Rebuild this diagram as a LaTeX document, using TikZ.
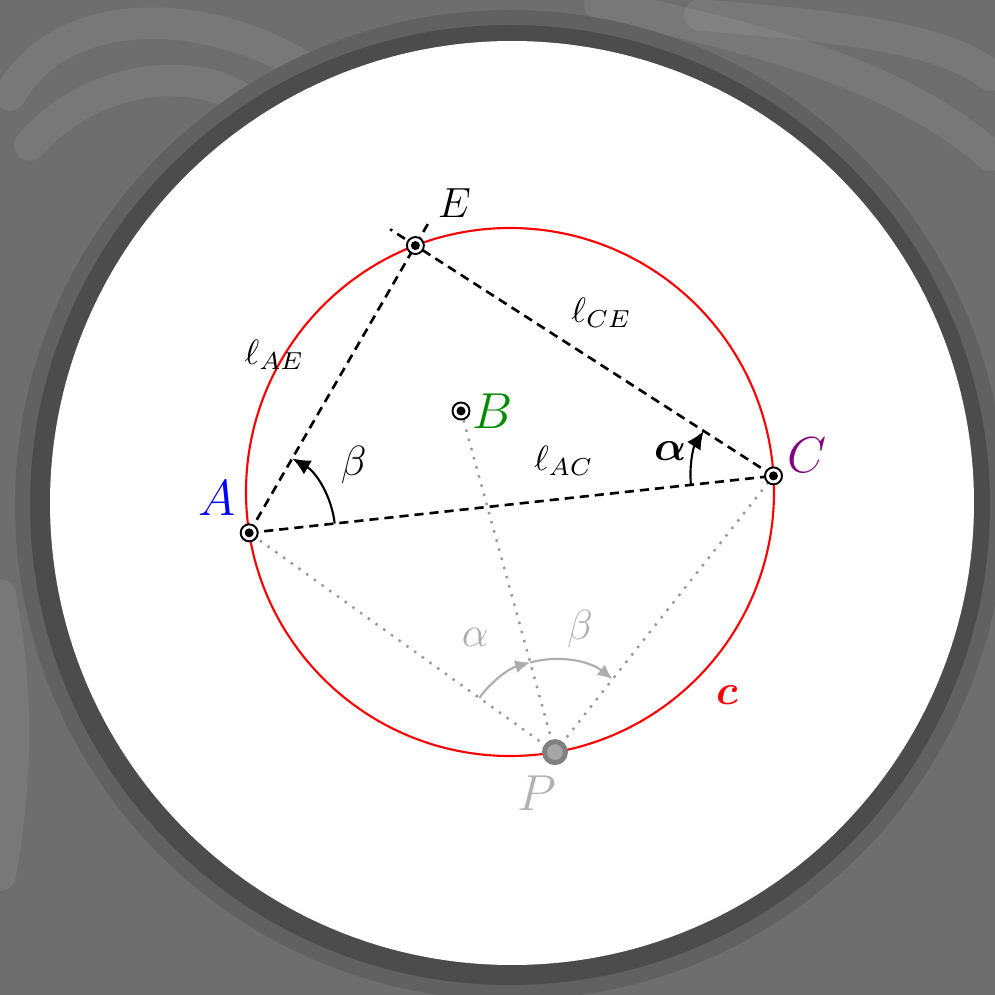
\documentclass[tikz,border=0pt]{standalone}
\usepackage{amsmath}
\usepackage{bm}
\usetikzlibrary{arrows.meta,angles,positioning}

\begin{document}
\begin{tikzpicture}[
  pt/.style={circle, draw, fill=white, line width=0.55pt, minimum size=1.7mm,
    inner sep=0pt,
    path picture={\fill[black] (path picture bounding box.center) circle (0.45mm);}},
  ppt/.style={circle, draw=black!50, fill=black!35, line width=1.4pt,
    minimum size=2.1mm, inner sep=0pt},
  dashline/.style={line width=0.75pt, dash pattern=on 2.6pt off 1.7pt},
  dotline/.style={line width=0.7pt, black!40, dotted},
  ang/.style={draw, line width=0.6pt},
  gang/.style={draw=black!32, line width=0.6pt, angle radius=9.3mm,
    pic text options={text=black!32, font=\large}},
  swirl/.style={white, opacity=0.07, line width=9pt, line cap=round}
]
\useasboundingbox (0,0) rectangle (9.95,9.95);
\clip (0,0) rectangle (9.95,9.95);

% backdrop
\fill[black!57] (0,0) rectangle (9.95,9.95);
\draw[swirl] (0.1,9.0) .. controls (0.6,9.9) and (2.0,9.9) .. (3.0,9.3);
\draw[swirl] (0.3,8.5) .. controls (1.0,9.3) and (2.2,9.3) .. (2.6,8.8);
\draw[swirl] (6.0,9.9) .. controls (7.5,9.6) and (9.0,9.2) .. (9.9,8.4);
\draw[swirl] (7.0,9.8) .. controls (8.2,9.7) and (9.4,9.6) .. (9.9,9.2);
\draw[swirl] (0.0,4.0) .. controls (0.2,3.0) and (0.15,2.0) .. (0.0,1.2);
\fill[black!62] (5.10,4.90) circle (4.95);
\fill[black!70] (5.10,4.90) circle (4.80);
\fill[white] (5.12,4.92) circle (4.62);

% circle c and its points
\coordinate (O) at (5.10,5.03);
\coordinate (A) at ([shift={(188.9:2.64)}]O);
\coordinate (C) at ([shift={(3.5:2.64)}]O);
\coordinate (E) at ([shift={(111:2.64)}]O);
\coordinate (P) at ([shift={(279.8:2.64)}]O);
\coordinate (B) at (4.61,5.84);

\draw[red, line width=0.6pt] (O) circle (2.64);
\node[red, font=\large] (clab) at (7.27,3.00) {$\bm{c}$};

\draw[dotline] (P) -- (A);
\draw[dotline] (P) -- (B);
\draw[dotline] (P) -- (C);

\draw[dashline] (A) -- node[pos=0.6, above=1mm] (lac) {$\ell_{AC}$} (C);
\draw[dashline, shorten >=-3mm] (A) -- node[pos=0.62, left=3.5mm] (lae) {$\ell_{AE}$} (E);
\draw[dashline, shorten >=-3mm] (C) -- node[pos=0.48, above=2.5mm] (lce) {$\ell_{CE}$} (E);

\pic[ang, -{Latex[length=1.8mm,width=1.6mm]}, angle radius=8.6mm,
  pic text={$\beta$}, pic text options={font=\large}, angle eccentricity=1.45]
  {angle=C--A--E};
\pic[ang, {Latex[length=1.8mm,width=1.6mm]}-, angle radius=8.3mm,
  pic text={$\bm{\alpha}$}, pic text options={font=\large}, angle eccentricity=1.28]
  {angle=E--C--A};
\pic[gang, {Latex[length=1.5mm,width=1.3mm]}-, pic text={$\alpha$},
  angle eccentricity=1.5] {angle=B--P--A};
\pic[gang, {Latex[length=1.5mm,width=1.3mm]}-, pic text={$\beta$},
  angle eccentricity=1.35] {angle=C--P--B};

\foreach \p in {A,B,C,E}
  \node[pt] (\p dot) at (\p) {};
\node[ppt] (Pdot) at (P) {};

\node[blue, font=\Large] (Alab) at ([shift={(-0.32,0.35)}]A) {$A$};
\node[green!55!black, font=\Large] (Blab) at ([shift={(0.32,0)}]B) {$B$};
\node[violet, font=\Large] (Clab) at ([shift={(0.34,0.21)}]C) {$C$};
\node[font=\large] (Elab) at ([shift={(0.39,0.42)}]E) {$E$};
\node[black!30, font=\Large] (Plab) at ([shift={(-0.18,-0.41)}]P) {$P$};
\end{tikzpicture}
\end{document}
